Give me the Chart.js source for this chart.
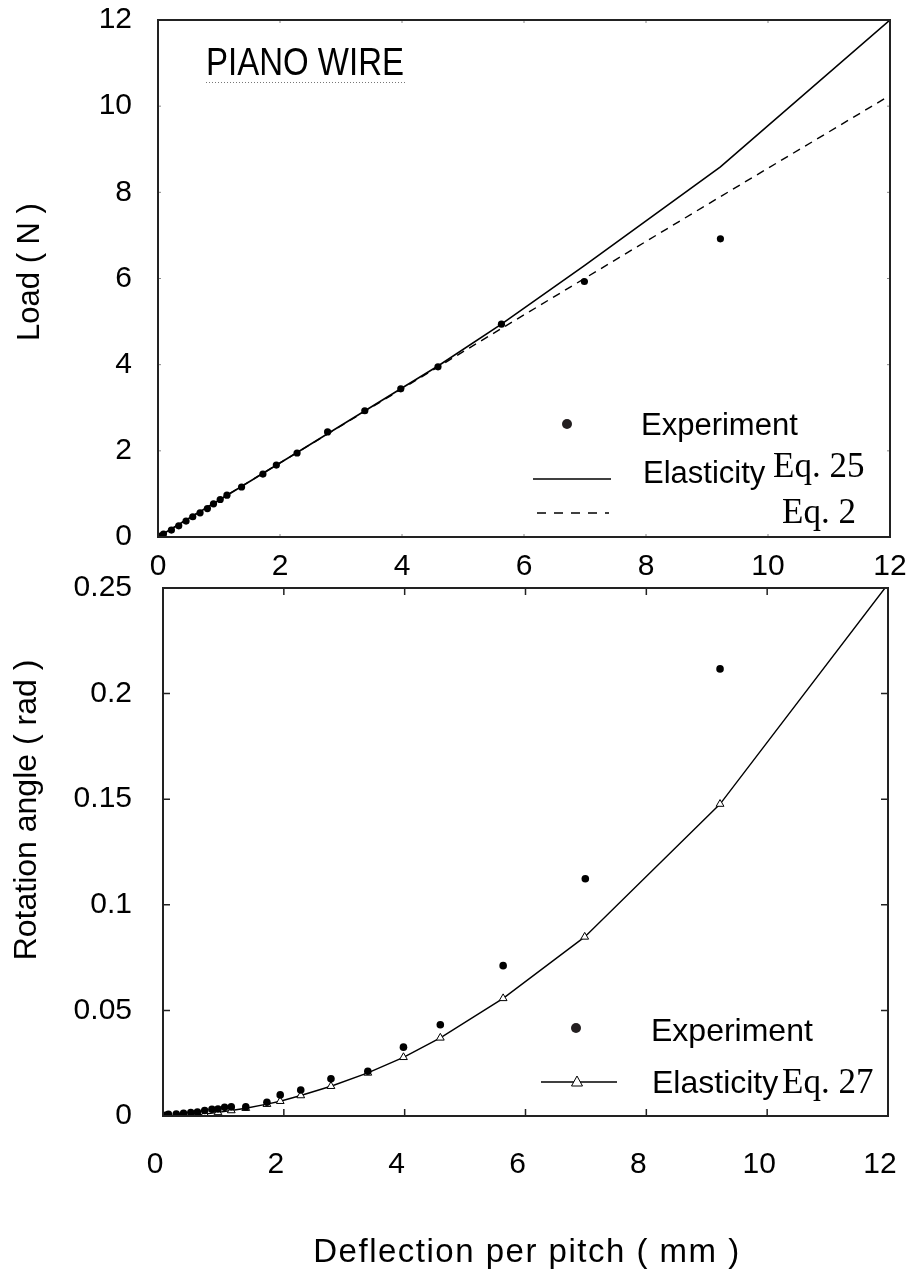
<!DOCTYPE html>
<html lang="en">

<head>
    <meta charset="UTF-8">
    <title>Piano wire | Load and rotation angle</title>
    <script src="https://cdn.jsdelivr.net/npm/chart.js"></script>
    <style>
        body { margin: 0; background: #fff; }
        .janela { position: relative; width: 918px; height: 1274px; }
        .graph { position: absolute; left: 0; }
    </style>
</head>

<body>
    <div class="janela">
        <div class="graph" style="top: 0px;">
            <canvas id="grafCarga" width="918" height="600"></canvas>
        </div>
        <div class="graph" style="top: 560px;">
            <canvas id="grafAngulo" width="918" height="714"></canvas>
        </div>
    </div>
</body>

</html>

<script>
    // deflection per pitch (mm) of the measured points
    const deflexao = [0, 0.04, 0.09, 0.22, 0.34, 0.46, 0.57, 0.69, 0.81, 0.91, 1.02, 1.13,
        1.37, 1.72, 1.94, 2.28, 2.78, 3.39, 3.98, 4.59, 5.63, 6.99, 9.22];

    // experiment: load (N) and rotation angle (rad)
    const cargaExp = [0, 0.02, 0.07, 0.16, 0.26, 0.37, 0.47, 0.56, 0.66, 0.77, 0.87, 0.97,
        1.16, 1.46, 1.67, 1.95, 2.44, 2.93, 3.44, 3.95, 4.94, 5.93, 6.92];
    const anguloExp = [0, 0.0003, 0.0008, 0.0009, 0.0013, 0.0016, 0.0019, 0.0026, 0.0032, 0.0033, 0.0041, 0.0043,
        0.0043, 0.0065, 0.0100, 0.0123, 0.0176, 0.0212, 0.0326, 0.0432, 0.0712, 0.1123, 0.2117];

    // elasticity, Eq. 25 (load)
    const eq25X = [0, 1.02, 2.28, 3.98, 4.59, 5.63, 6.99, 9.22, 12];
    const eq25Carga = [0, 0.87, 1.96, 3.44, 3.97, 4.94, 6.30, 8.59, 12];

    // Eq. 2 (load)
    const eq2X = [0, 5.63, 9.22, 12];
    const eq2Carga = [0, 4.84, 7.90, 10.25];

    // elasticity, Eq. 27 (rotation angle)
    const eq27X = [0, 0.22, 0.46, 0.69, 0.91, 1.13, 1.37, 1.72, 1.94, 2.28, 2.78, 3.39,
        3.98, 4.59, 5.63, 6.98, 9.22, 11.95];
    const eq27Angulo = [0, 0.0001, 0.0004, 0.0009, 0.0017, 0.0026, 0.0037, 0.0056, 0.0070, 0.0097, 0.0141, 0.0204,
        0.0278, 0.0370, 0.0557, 0.0848, 0.1477, 0.25];

    // tick labels
    const rotulosDeflexao = ['0', '2', '4', '6', '8', '10', '12'];
    const rotulosCarga = ['0', '2', '4', '6', '8', '10', '12'];
    const rotulosAngulo = ['0', '0.05', '0.1', '0.15', '0.2', '0.25'];

    const fonte = "'Liberation Sans', Arial, sans-serif";
    const fonteSerif = "'Liberation Serif', 'Times New Roman', serif";

    function pares(xs, ys) {
        return xs.map((x, i) => ({ x: x, y: ys[i] }));
    }

    // box round the plot area + small inward ticks
    const moldura = {
        id: 'moldura',
        afterDraw(chart, args, opts) {
            const { ctx, chartArea: a, scales } = chart;
            ctx.save();
            ctx.strokeStyle = opts.corTick;
            ctx.lineWidth = opts.larguraTick;
            ctx.beginPath();
            scales.x.ticks.forEach(t => {
                const px = scales.x.getPixelForValue(t.value);
                ctx.moveTo(px, a.bottom); ctx.lineTo(px, a.bottom - opts.tick);
                ctx.moveTo(px, a.top); ctx.lineTo(px, a.top + opts.tick);
            });
            scales.y.ticks.forEach(t => {
                const py = scales.y.getPixelForValue(t.value);
                ctx.moveTo(a.left, py); ctx.lineTo(a.left + opts.tick, py);
                ctx.moveTo(a.right, py); ctx.lineTo(a.right - opts.tick, py);
            });
            ctx.stroke();
            ctx.strokeStyle = '#222';
            ctx.lineWidth = 2;
            ctx.strokeRect(a.left, a.top, a.right - a.left, a.bottom - a.top);
            ctx.restore();
        }
    };

    function textoVertical(ctx, texto, x, y) {
        ctx.save();
        ctx.translate(x, y);
        ctx.rotate(-Math.PI / 2);
        ctx.textAlign = 'center';
        ctx.textBaseline = 'middle';
        ctx.fillText(texto, 0, 0);
        ctx.restore();
    }

    function linha(ctx, x1, y1, x2, y2) {
        ctx.beginPath();
        ctx.moveTo(x1, y1);
        ctx.lineTo(x2, y2);
        ctx.stroke();
    }

    // legend, label and y title of the load chart
    const legendaCarga = {
        id: 'legendaCarga',
        afterDraw(chart) {
            const ctx = chart.ctx;
            ctx.save();
            ctx.fillStyle = '#000';
            ctx.strokeStyle = '#000';
            ctx.font = '31px ' + fonte;
            textoVertical(ctx, 'Load ( N )', 30, 272);

            ctx.font = '38px ' + fonte;
            ctx.textBaseline = 'alphabetic';
            ctx.fillText('PIANO WIRE', 206, 75, 198);
            ctx.save();
            ctx.strokeStyle = '#777';
            ctx.lineWidth = 1;
            ctx.setLineDash([1, 2]);
            linha(ctx, 206, 82.5, 407, 82.5);
            ctx.restore();

            ctx.fillStyle = '#231f20';
            ctx.beginPath();
            ctx.arc(567, 424, 5, 0, Math.PI * 2);
            ctx.fill();
            ctx.fillStyle = '#000';

            ctx.lineWidth = 1.6;
            linha(ctx, 533, 479, 611, 479);
            ctx.setLineDash([9, 8]);
            linha(ctx, 537, 513, 609, 513);
            ctx.setLineDash([]);

            ctx.font = '31px ' + fonte;
            ctx.fillText('Experiment', 641, 435);
            ctx.fillText('Elasticity', 643, 483);
            ctx.font = '35px ' + fonteSerif;
            ctx.fillText('Eq. 25', 773, 477);
            ctx.fillText('Eq. 2', 782, 523);
            ctx.restore();
        }
    };

    // legend, y and x titles of the angle chart
    const legendaAngulo = {
        id: 'legendaAngulo',
        afterDraw(chart) {
            const ctx = chart.ctx;
            ctx.save();
            ctx.fillStyle = '#000';
            ctx.strokeStyle = '#000';
            ctx.font = '32px ' + fonte;
            textoVertical(ctx, 'Rotation angle ( rad )', 27, 250);

            ctx.save();
            ctx.font = '33px ' + fonte;
            ctx.letterSpacing = '1.5px';
            ctx.textAlign = 'center';
            ctx.textBaseline = 'alphabetic';
            ctx.fillText('Deflection per pitch ( mm )', 527, 702);
            ctx.restore();

            ctx.fillStyle = '#231f20';
            ctx.beginPath();
            ctx.arc(576, 468, 5, 0, Math.PI * 2);
            ctx.fill();
            ctx.fillStyle = '#000';

            ctx.lineWidth = 1.6;
            linha(ctx, 541, 522, 617, 522);
            ctx.fillStyle = '#fff';
            ctx.lineWidth = 1;
            ctx.beginPath();
            ctx.moveTo(577, 516);
            ctx.lineTo(582.5, 526);
            ctx.lineTo(571.5, 526);
            ctx.closePath();
            ctx.fill();
            ctx.stroke();

            ctx.fillStyle = '#000';
            ctx.textBaseline = 'alphabetic';
            ctx.font = '32px ' + fonte;
            ctx.fillText('Experiment', 651, 481);
            ctx.fillText('Elasticity', 652, 533);
            ctx.font = '35px ' + fonteSerif;
            ctx.fillText('Eq. 27', 782, 533);
            ctx.restore();
        }
    };

    function eixoX(rotulos, padding, offset, altura) {
        return {
            type: 'linear', min: 0, max: 12,
            ticks: {
                stepSize: 2, color: '#000', padding: padding, labelOffset: offset,
                font: { family: fonte, size: 30 },
                callback: (v, i) => rotulos[i]
            },
            grid: { display: false, drawTicks: false },
            border: { display: false },
            afterFit: s => {
                s.height = altura;
                s.paddingLeft = 0;
                s.paddingRight = 0;
            }
        };
    }

    function eixoY(rotulos, max, passo, padding, largura) {
        return {
            type: 'linear', min: 0, max: max,
            ticks: {
                stepSize: passo, color: '#000', padding: padding,
                font: { family: fonte, size: 30 },
                callback: (v, i) => rotulos[i]
            },
            grid: { display: false, drawTicks: false },
            border: { display: false },
            afterFit: s => {
                s.width = largura;
                s.paddingTop = 0;
                s.paddingBottom = 0;
            }
        };
    }

    // load chart
    const configCarga = {
        type: 'scatter',
        data: {
            datasets: [{
                label: 'Experiment',
                data: pares(deflexao, cargaExp),
                pointRadius: 3.6,
                pointBackgroundColor: '#000',
                pointBorderWidth: 0,
                showLine: false
            },
            {
                label: 'Elasticity Eq. 25',
                data: pares(eq25X, eq25Carga),
                showLine: true,
                borderColor: '#000',
                borderWidth: 1.6,
                pointRadius: 0
            },
            {
                label: 'Eq. 2',
                data: pares(eq2X, eq2Carga),
                showLine: true,
                borderColor: '#000',
                borderWidth: 1.4,
                borderDash: [8, 6],
                pointRadius: 0
            }]
        },
        options: {
            responsive: false,
            animation: false,
            layout: { padding: { top: 20, right: 28, left: 0, bottom: 0 } },
            plugins: {
                legend: { display: false },
                tooltip: { enabled: false },
                moldura: { tick: 3, corTick: '#888', larguraTick: 1 }
            },
            scales: {
                x: eixoX(rotulosDeflexao, 12, 0, 63),
                y: eixoY(rotulosCarga, 12, 2, 26, 158)
            }
        },
        plugins: [moldura, legendaCarga]
    };

    // rotation angle chart
    const configAngulo = {
        type: 'scatter',
        data: {
            datasets: [{
                label: 'Experiment',
                data: pares(deflexao, anguloExp),
                pointRadius: 3.8,
                pointBackgroundColor: '#000',
                pointBorderWidth: 0,
                showLine: false
            },
            {
                label: 'Elasticity Eq. 27',
                data: pares(eq27X, eq27Angulo),
                showLine: true,
                borderColor: '#000',
                borderWidth: 1.4,
                pointStyle: 'triangle',
                pointRadius: eq27X.map((x, i) => i == eq27X.length - 1 ? 0 : 4.5),
                pointBackgroundColor: '#fff',
                pointBorderColor: '#000',
                pointBorderWidth: 1
            }]
        },
        options: {
            responsive: false,
            animation: false,
            layout: { padding: { top: 28, right: 30, left: 0, bottom: 0 } },
            plugins: {
                legend: { display: false },
                tooltip: { enabled: false },
                moldura: { tick: 7, corTick: '#222', larguraTick: 1.5 }
            },
            scales: {
                x: eixoX(rotulosDeflexao, 31, -8, 158),
                y: eixoY(rotulosAngulo, 0.25, 0.05, 31, 163)
            }
        },
        plugins: [moldura, legendaAngulo]
    };

    let graficoCarga = new Chart(document.getElementById('grafCarga'), configCarga);
    let graficoAngulo = new Chart(document.getElementById('grafAngulo'), configAngulo);
</script>
